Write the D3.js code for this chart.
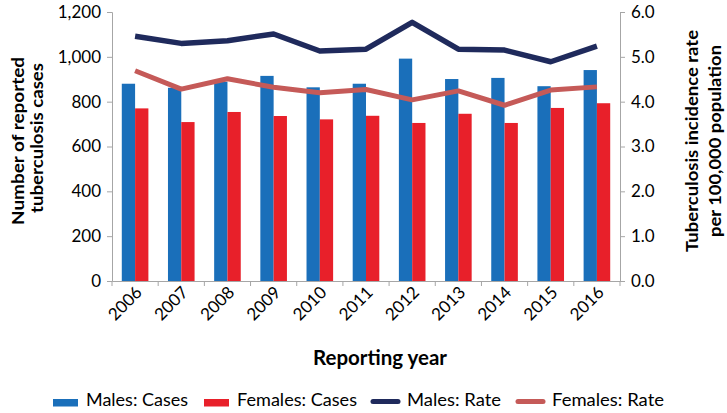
<!DOCTYPE html>
<html><head><meta charset="utf-8">
<script src="https://cdn.jsdelivr.net/npm/d3@7"></script>
<style>body{margin:0;background:#fff;} svg{display:block;font-family:Lato,"Open Sans",sans-serif;}</style>
</head><body><svg id="c" width="727" height="413"></svg>
<script>
const years = ["2006","2007","2008","2009","2010","2011","2012","2013","2014","2015","2016"];
const malesCases = [880,862,889,915,864,880,992,901,906,869,941];
const femalesCases = [770,709,754,736,721,737,705,746,705,772,793];
const malesRate = [5.46,5.30,5.36,5.51,5.13,5.17,5.77,5.17,5.15,4.89,5.24];
const femalesRate = [4.69,4.28,4.51,4.32,4.20,4.27,4.04,4.24,3.92,4.26,4.33];
const leftTicks = [0,200,400,600,800,1000,1200];
const rightTicks = [0,1,2,3,4,5,6];
const seriesNames = ["Males: Cases","Females: Cases","Males: Rate","Females: Rate"];
const colors = {mc:"#1a6fba", fc:"#e8202a", mr:"#1f2a5c", fr:"#c55a58"};

const svg = d3.select("#c");
const L=112, R=620, T=12, B=281;
const x = d3.scaleBand().domain(years).range([L,R]).paddingInner(0).paddingOuter(0);
const yL = d3.scaleLinear().domain([0,1200]).range([B,T]);
const yR = d3.scaleLinear().domain([0,6]).range([B,T]);
const bw = 13.3;
const tf = "Lato,'Open Sans',sans-serif";
const axisColor="#a6a6a6";

// bars
const g = svg.append("g");
g.selectAll(".mc").data(years).join("rect")
  .attr("x",d=>x(d)+x.bandwidth()/2-bw).attr("width",bw)
  .attr("y",(d,i)=>yL(malesCases[i])).attr("height",(d,i)=>B-yL(malesCases[i]))
  .attr("fill",colors.mc);
g.selectAll(".fc").data(years).join("rect")
  .attr("x",d=>x(d)+x.bandwidth()/2).attr("width",bw)
  .attr("y",(d,i)=>yL(femalesCases[i])).attr("height",(d,i)=>B-yL(femalesCases[i]))
  .attr("fill",colors.fc);

// axes
const fs = "17px";
const la = svg.append("g").attr("transform",`translate(${L},0)`)
  .call(d3.axisLeft(yL).tickValues(leftTicks).tickSize(5).tickPadding(6).tickFormat(d3.format(",")));
const ra = svg.append("g").attr("transform",`translate(${R},0)`)
  .call(d3.axisRight(yR).tickValues(rightTicks).tickSize(5).tickPadding(6).tickFormat(d3.format(".1f")));
const ba = svg.append("g").attr("transform",`translate(0,${B})`)
  .call(d3.axisBottom(x).tickSize(0).tickPadding(0));
svg.append("g").selectAll("line").data(d3.range(years.length+1)).join("line")
  .attr("x1",i=>L+i*x.bandwidth()).attr("x2",i=>L+i*x.bandwidth())
  .attr("y1",B).attr("y2",B+5).attr("stroke",axisColor);
[la,ra,ba].forEach(a=>{
  a.selectAll("path").attr("stroke",axisColor);
  a.selectAll("line").attr("stroke",axisColor);
  a.selectAll("text").attr("font-size",fs).attr("fill","#000").attr("font-family",tf);
});
ba.selectAll("text").attr("text-anchor","end").attr("x",0).attr("y",0).attr("dy",0)
  .attr("transform","translate(8,12.5) rotate(-45)");

// lines
const line = arr => d3.line().x((d,i)=>x(years[i])+x.bandwidth()/2).y(d=>yR(d))(arr);
svg.append("path").attr("d",line(femalesRate)).attr("fill","none").attr("stroke",colors.fr).attr("stroke-width",5).attr("stroke-linejoin","round");
svg.append("path").attr("d",line(malesRate)).attr("fill","none").attr("stroke",colors.mr).attr("stroke-width",5.5).attr("stroke-linejoin","round");

// titles
function title(tx,ty,rot,txt,len,size){
  svg.append("text").attr("transform",`translate(${tx},${ty}) rotate(${rot})`).attr("text-anchor","middle")
    .attr("font-size",size).attr("font-weight","bold").attr("font-family",tf)
    .attr("textLength",len).attr("lengthAdjust","spacingAndGlyphs").text(txt);
}
title(24,141,-90,"Number of reported",168,"17px");
title(43,138,-90,"tuberculosis cases",150,"17px");
title(698,141,-90,"Tuberculosis incidence rate",222,"17px");
title(721,141,-90,"per 100,000 population",192,"17px");
title(380,365,0,"Reporting year",134,"21px");

// legend
const leg = [
  {n:seriesNames[0],c:colors.mc,t:"rect",x:53,w:25,tl:102},
  {n:seriesNames[1],c:colors.fc,t:"rect",x:204,w:25,tl:120},
  {n:seriesNames[2],c:colors.mr,t:"line",x:373,w:25,tl:94},
  {n:seriesNames[3],c:colors.fr,t:"line",x:518,w:25,tl:112}
];
const ly=402.5;
leg.forEach(d=>{
  if(d.t==="rect") svg.append("rect").attr("x",d.x).attr("y",ly-3.5).attr("width",d.w).attr("height",7.5).attr("fill",d.c);
  else svg.append("line").attr("x1",d.x).attr("x2",d.x+d.w).attr("y1",ly-1).attr("y2",ly-1).attr("stroke",d.c).attr("stroke-width",5).attr("stroke-linecap","round");
  const tx = d.t==="rect" ? d.x+d.w+8 : d.x+d.w+9;
  svg.append("text").attr("x",tx).attr("y",406).attr("font-size","18px").attr("font-family",tf)
    .attr("textLength",d.tl).attr("lengthAdjust","spacingAndGlyphs").text(d.n);
});
</script></body></html>
